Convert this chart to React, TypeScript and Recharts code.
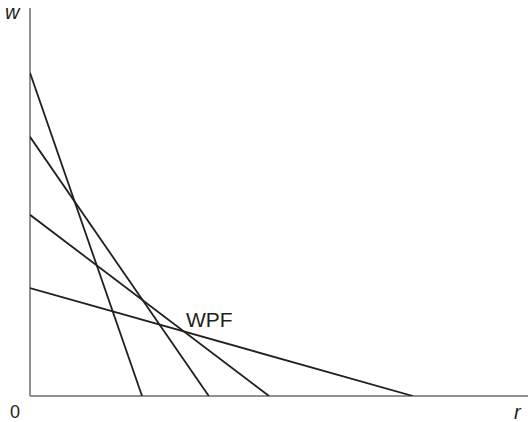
import { LineChart, Line, XAxis, YAxis, ReferenceDot, ReferenceLine } from "recharts";

// each schedule: w-intercept on the vertical axis, r-intercept on the horizontal axis
const wIntercepts = [8.33, 6.68, 4.67, 2.78];
const rIntercepts = [2.25, 3.59, 4.8, 7.69];

const schedules = wIntercepts.map((w, i) => [
  { r: 0, w },
  { r: rIntercepts[i], w: 0 },
]);

const FONT = "'Liberation Sans', Arial, sans-serif";
const AXIS = "#6d6d6d";

const labelStyle = { position: "absolute" as const, color: "#231f20", lineHeight: "22px", whiteSpace: "nowrap" as const };

export default function App() {
  return (
    <div style={{ position: "absolute", left: 0, top: 0, width: 528, height: 422, fontFamily: FONT, overflow: "hidden" }}>
      <LineChart width={528} height={422} margin={{ top: 8, right: 0, bottom: 26, left: 30 }}>
        <XAxis type="number" dataKey="r" domain={[0, 10]} allowDataOverflow hide />
        <YAxis type="number" dataKey="w" domain={[0, 10]} allowDataOverflow hide />
        <ReferenceLine y={0} stroke={AXIS} strokeWidth={1.5} ifOverflow="visible" />
        <ReferenceLine x={0} stroke={AXIS} strokeWidth={1.5} ifOverflow="visible" />
        {schedules.map((d, i) => (
          <Line
            key={i}
            data={d}
            dataKey="w"
            stroke="#231f20"
            strokeWidth={1.8}
            dot={false}
            activeDot={false}
            isAnimationActive={false}
          />
        ))}
        <ReferenceDot
          x={3.6}
          y={1.98}
          r={0}
          ifOverflow="visible"
          label={{ value: "WPF", position: "center", fill: "#231f20", fontSize: 21, fontFamily: FONT }}
        />
      </LineChart>
      <span style={{ ...labelStyle, left: 5, top: 1, fontSize: 20, fontStyle: "italic" }}>w</span>
      <span style={{ ...labelStyle, left: 10, top: 401, fontSize: 18 }}>0</span>
      <span style={{ ...labelStyle, left: 514, top: 401, fontSize: 20, fontStyle: "italic" }}>r</span>
    </div>
  );
}
